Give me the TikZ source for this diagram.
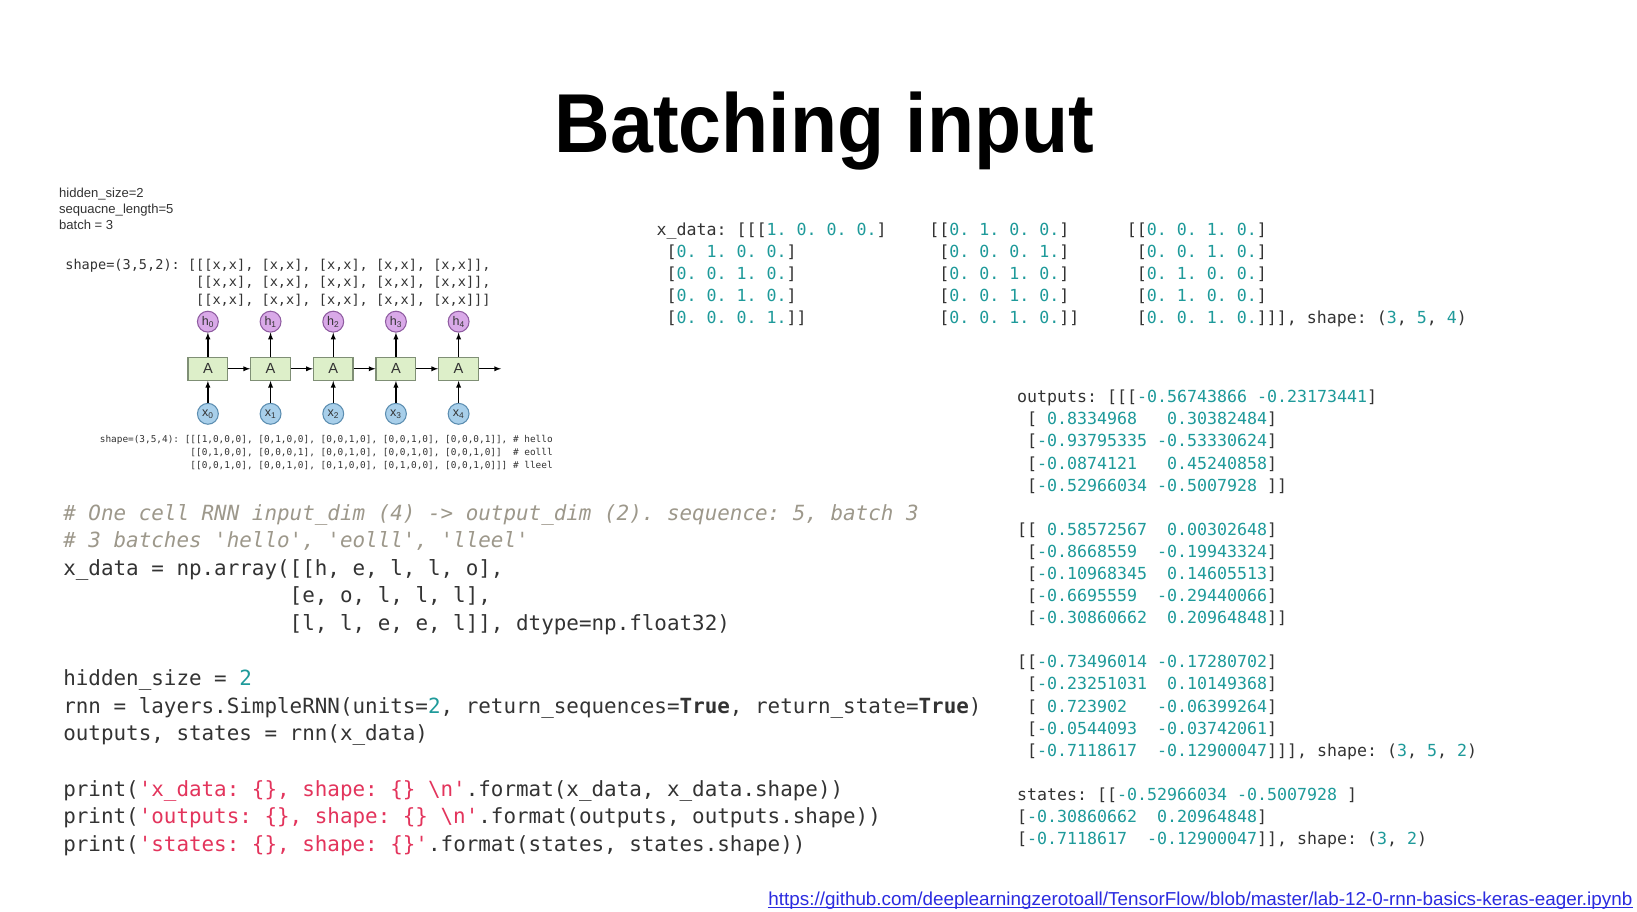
\documentclass[tikz,border=0pt]{standalone}
\usepackage{fontspec}
\setmainfont{Liberation Sans}
\setmonofont{DejaVu Sans Mono}
\usepackage{xcolor}
\usetikzlibrary{positioning}
\definecolor{CodeInk}{HTML}{333333}
\definecolor{CodeNum}{HTML}{1E9A9A}
\definecolor{CodeStr}{HTML}{E3345C}
\definecolor{CodeCmt}{HTML}{9D988B}
\definecolor{LinkBlue}{HTML}{2B2BE0}
\definecolor{CellGreen}{HTML}{DDEFC9}
\definecolor{CellEdge}{HTML}{7F8F75}
\definecolor{HidFill}{HTML}{D9A9E8}
\definecolor{HidEdge}{HTML}{8E5BA0}
\definecolor{InFill}{HTML}{A8CFEA}
\definecolor{InEdge}{HTML}{5B8DB0}
\newcommand{\nm}[1]{\textcolor{CodeNum}{#1}}
\newcommand{\strg}[1]{\textcolor{CodeStr}{#1}}
\newcommand{\cmt}[1]{\textcolor{CodeCmt}{\itshape #1}}

\begin{document}
\begin{tikzpicture}[x=1pt, y=-1pt, >=latex,
                    every node/.style={inner sep=0pt, text=CodeInk},
                    every path/.style={line width=1.2pt},
                    code/.style={anchor=base west, font=\ttfamily\fontsize{20}{26.4}\selectfont},
                    dump/.style={anchor=base west, font=\ttfamily\fontsize{15.9}{21.15}\selectfont},
                    note/.style={anchor=base west, font=\ttfamily\fontsize{13}{17}\selectfont},
                    tiny/.style={anchor=base west, font=\ttfamily\fontsize{9}{12}\selectfont},
                    cell/.style={draw=CellEdge, fill=CellGreen, minimum width=38pt, minimum height=22pt,
                                 font=\fontsize{14}{14}\selectfont},
                    hid/.style={circle, draw=HidEdge, fill=HidFill, minimum size=20pt, line width=1pt,
                                font=\fontsize{12}{12}\selectfont},
                    inp/.style={circle, draw=InEdge, fill=InFill, minimum size=20pt, line width=1pt,
                                font=\fontsize{12}{12}\selectfont}]
\fill[white] (0,0) rectangle (1567,873);
\useasboundingbox (0,0) rectangle (1567,873);

\node[anchor=base, text=black] (title) at (789,146) {\resizebox{516pt}{58pt}{\bfseries Batching input}};

\node[anchor=base west, font=\fontsize{12.5}{15}\selectfont] (params) at (56,189.5)
  {\begin{tabular}[t]{@{}l@{}}hidden\_size=2\\ sequacne\_length=5\\ batch = 3\end{tabular}};

\node[note] (outshape) at (62,257.5)
  {\begin{tabular}[t]{@{}l@{}}shape=(3,5,2): [[[x,x], [x,x], [x,x], [x,x], [x,x]],\\
  ~~~~~~~~~~~~~~~~[[x,x], [x,x], [x,x], [x,x], [x,x]],\\
  ~~~~~~~~~~~~~~~~[[x,x], [x,x], [x,x], [x,x], [x,x]]]\end{tabular}};

% unrolled cells
\node[cell] (a0) at (199,353) {A};
\foreach \i [remember=\i as \j (initially 0)] in {1,...,4}
  \node[cell, right=20.8pt of a\j] (a\i) {A};
\foreach \i in {0,...,4} {
  \node[hid, above=23pt of a\i] (h\i) {h\textsubscript{\i}};
  \node[inp, below=21pt of a\i] (x\i) {x\textsubscript{\i}};
  \draw[->] (x\i) -- (a\i);
  \draw[->] (a\i) -- (h\i);
}
\foreach \i [remember=\i as \j (initially 0)] in {1,...,4}
  \draw[->] (a\j) -- (a\i);
\coordinate[right=21pt of a4] (aout);
\draw[->] (a4) -- (aout);

\node[tiny] (inshape) at (95,424)
  {\begin{tabular}[t]{@{}l@{}}shape=(3,5,4): [[[1,0,0,0], [0,1,0,0], [0,0,1,0], [0,0,1,0], [0,0,0,1]], \# hello\\
  ~~~~~~~~~~~~~~~~[[0,1,0,0], [0,0,0,1], [0,0,1,0], [0,0,1,0], [0,0,1,0]]~~\# eolll\\
  ~~~~~~~~~~~~~~~~[[0,0,1,0], [0,0,1,0], [0,1,0,0], [0,1,0,0], [0,0,1,0]]] \# lleel\end{tabular}};

% source code
\node[code] (source) at (60,498)
  {\begin{tabular}[t]{@{}l@{}}\cmt{\# One cell RNN input\_dim (4) -> output\_dim (2). sequence: 5, batch 3}\\
  \cmt{\# 3 batches 'hello', 'eolll', 'lleel'}\\
  x\_data = np.array([[h, e, l, l, o],\\
  ~~~~~~~~~~~~~~~~~~[e, o, l, l, l],\\
  ~~~~~~~~~~~~~~~~~~[l, l, e, e, l]], dtype=np.float32)\\
  \\
  hidden\_size = \nm{2}\\
  rnn = layers.SimpleRNN(units=\nm{2}, return\_sequences=\textbf{True}, return\_state=\textbf{True})\\
  outputs, states = rnn(x\_data)\\
  \\
  print(\strg{'x\_data: \{\}, shape: \{\} \textbackslash n'}.format(x\_data, x\_data.shape))\\
  print(\strg{'outputs: \{\}, shape: \{\} \textbackslash n'}.format(outputs, outputs.shape))\\
  print(\strg{'states: \{\}, shape: \{\}'}.format(states, states.shape))\end{tabular}};

% printed x_data
\node[dump] (xdata1) at (628,225)
  {\begin{tabular}[t]{@{}l@{}}x\_data: [[[\nm{1. 0. 0. 0.}]\\
  ~[\nm{0. 1. 0. 0.}]\\
  ~[\nm{0. 0. 1. 0.}]\\
  ~[\nm{0. 0. 1. 0.}]\\
  ~[\nm{0. 0. 0. 1.}]]\end{tabular}};
\node[dump] (xdata2) at (889,225)
  {\begin{tabular}[t]{@{}l@{}}[[\nm{0. 1. 0. 0.}]\\
  ~[\nm{0. 0. 0. 1.}]\\
  ~[\nm{0. 0. 1. 0.}]\\
  ~[\nm{0. 0. 1. 0.}]\\
  ~[\nm{0. 0. 1. 0.}]]\end{tabular}};
\node[dump] (xdata3) at (1078,225)
  {\begin{tabular}[t]{@{}l@{}}[[\nm{0. 0. 1. 0.}]\\
  ~[\nm{0. 0. 1. 0.}]\\
  ~[\nm{0. 1. 0. 0.}]\\
  ~[\nm{0. 1. 0. 0.}]\\
  ~[\nm{0. 0. 1. 0.}]]], shape: (\nm{3}, \nm{5}, \nm{4})\end{tabular}};

% printed outputs and states
\node[dump] (outputs) at (973,385.5)
  {\begin{tabular}[t]{@{}l@{}}outputs: [[[\nm{-0.56743866 -0.23173441}]\\
  ~[\nm{~0.8334968~~~0.30382484}]\\
  ~[\nm{-0.93795335 -0.53330624}]\\
  ~[\nm{-0.0874121~~~0.45240858}]\\
  ~[\nm{-0.52966034 -0.5007928}~]]\\
  \\
  {[}[\nm{~0.58572567~~0.00302648}]\\
  ~[\nm{-0.8668559~~-0.19943324}]\\
  ~[\nm{-0.10968345~~0.14605513}]\\
  ~[\nm{-0.6695559~~-0.29440066}]\\
  ~[\nm{-0.30860662~~0.20964848}]]\\
  \\
  {[}[\nm{-0.73496014 -0.17280702}]\\
  ~[\nm{-0.23251031~~0.10149368}]\\
  ~[\nm{~0.723902~~~-0.06399264}]\\
  ~[\nm{-0.0544093~~-0.03742061}]\\
  ~[\nm{-0.7118617~~-0.12900047}]]], shape: (\nm{3}, \nm{5}, \nm{2})\\
  \\
  states: [[\nm{-0.52966034 -0.5007928}~]\\
  {[}\nm{-0.30860662~~0.20964848}]\\
  {[}\nm{-0.7118617~~-0.12900047}]], shape: (\nm{3}, \nm{2})\end{tabular}};

\node[anchor=base west, text=LinkBlue] (link) at (735,867)
  {\resizebox{827pt}{13pt}{https://github.com/deeplearningzerotoall/TensorFlow/blob/master/lab-12-0-rnn-basics-keras-eager.ipynb}};
\draw[LinkBlue, line width=1pt] ([yshift=-2pt]link.base west) -- ([yshift=-2pt]link.base east);
\end{tikzpicture}
\end{document}
